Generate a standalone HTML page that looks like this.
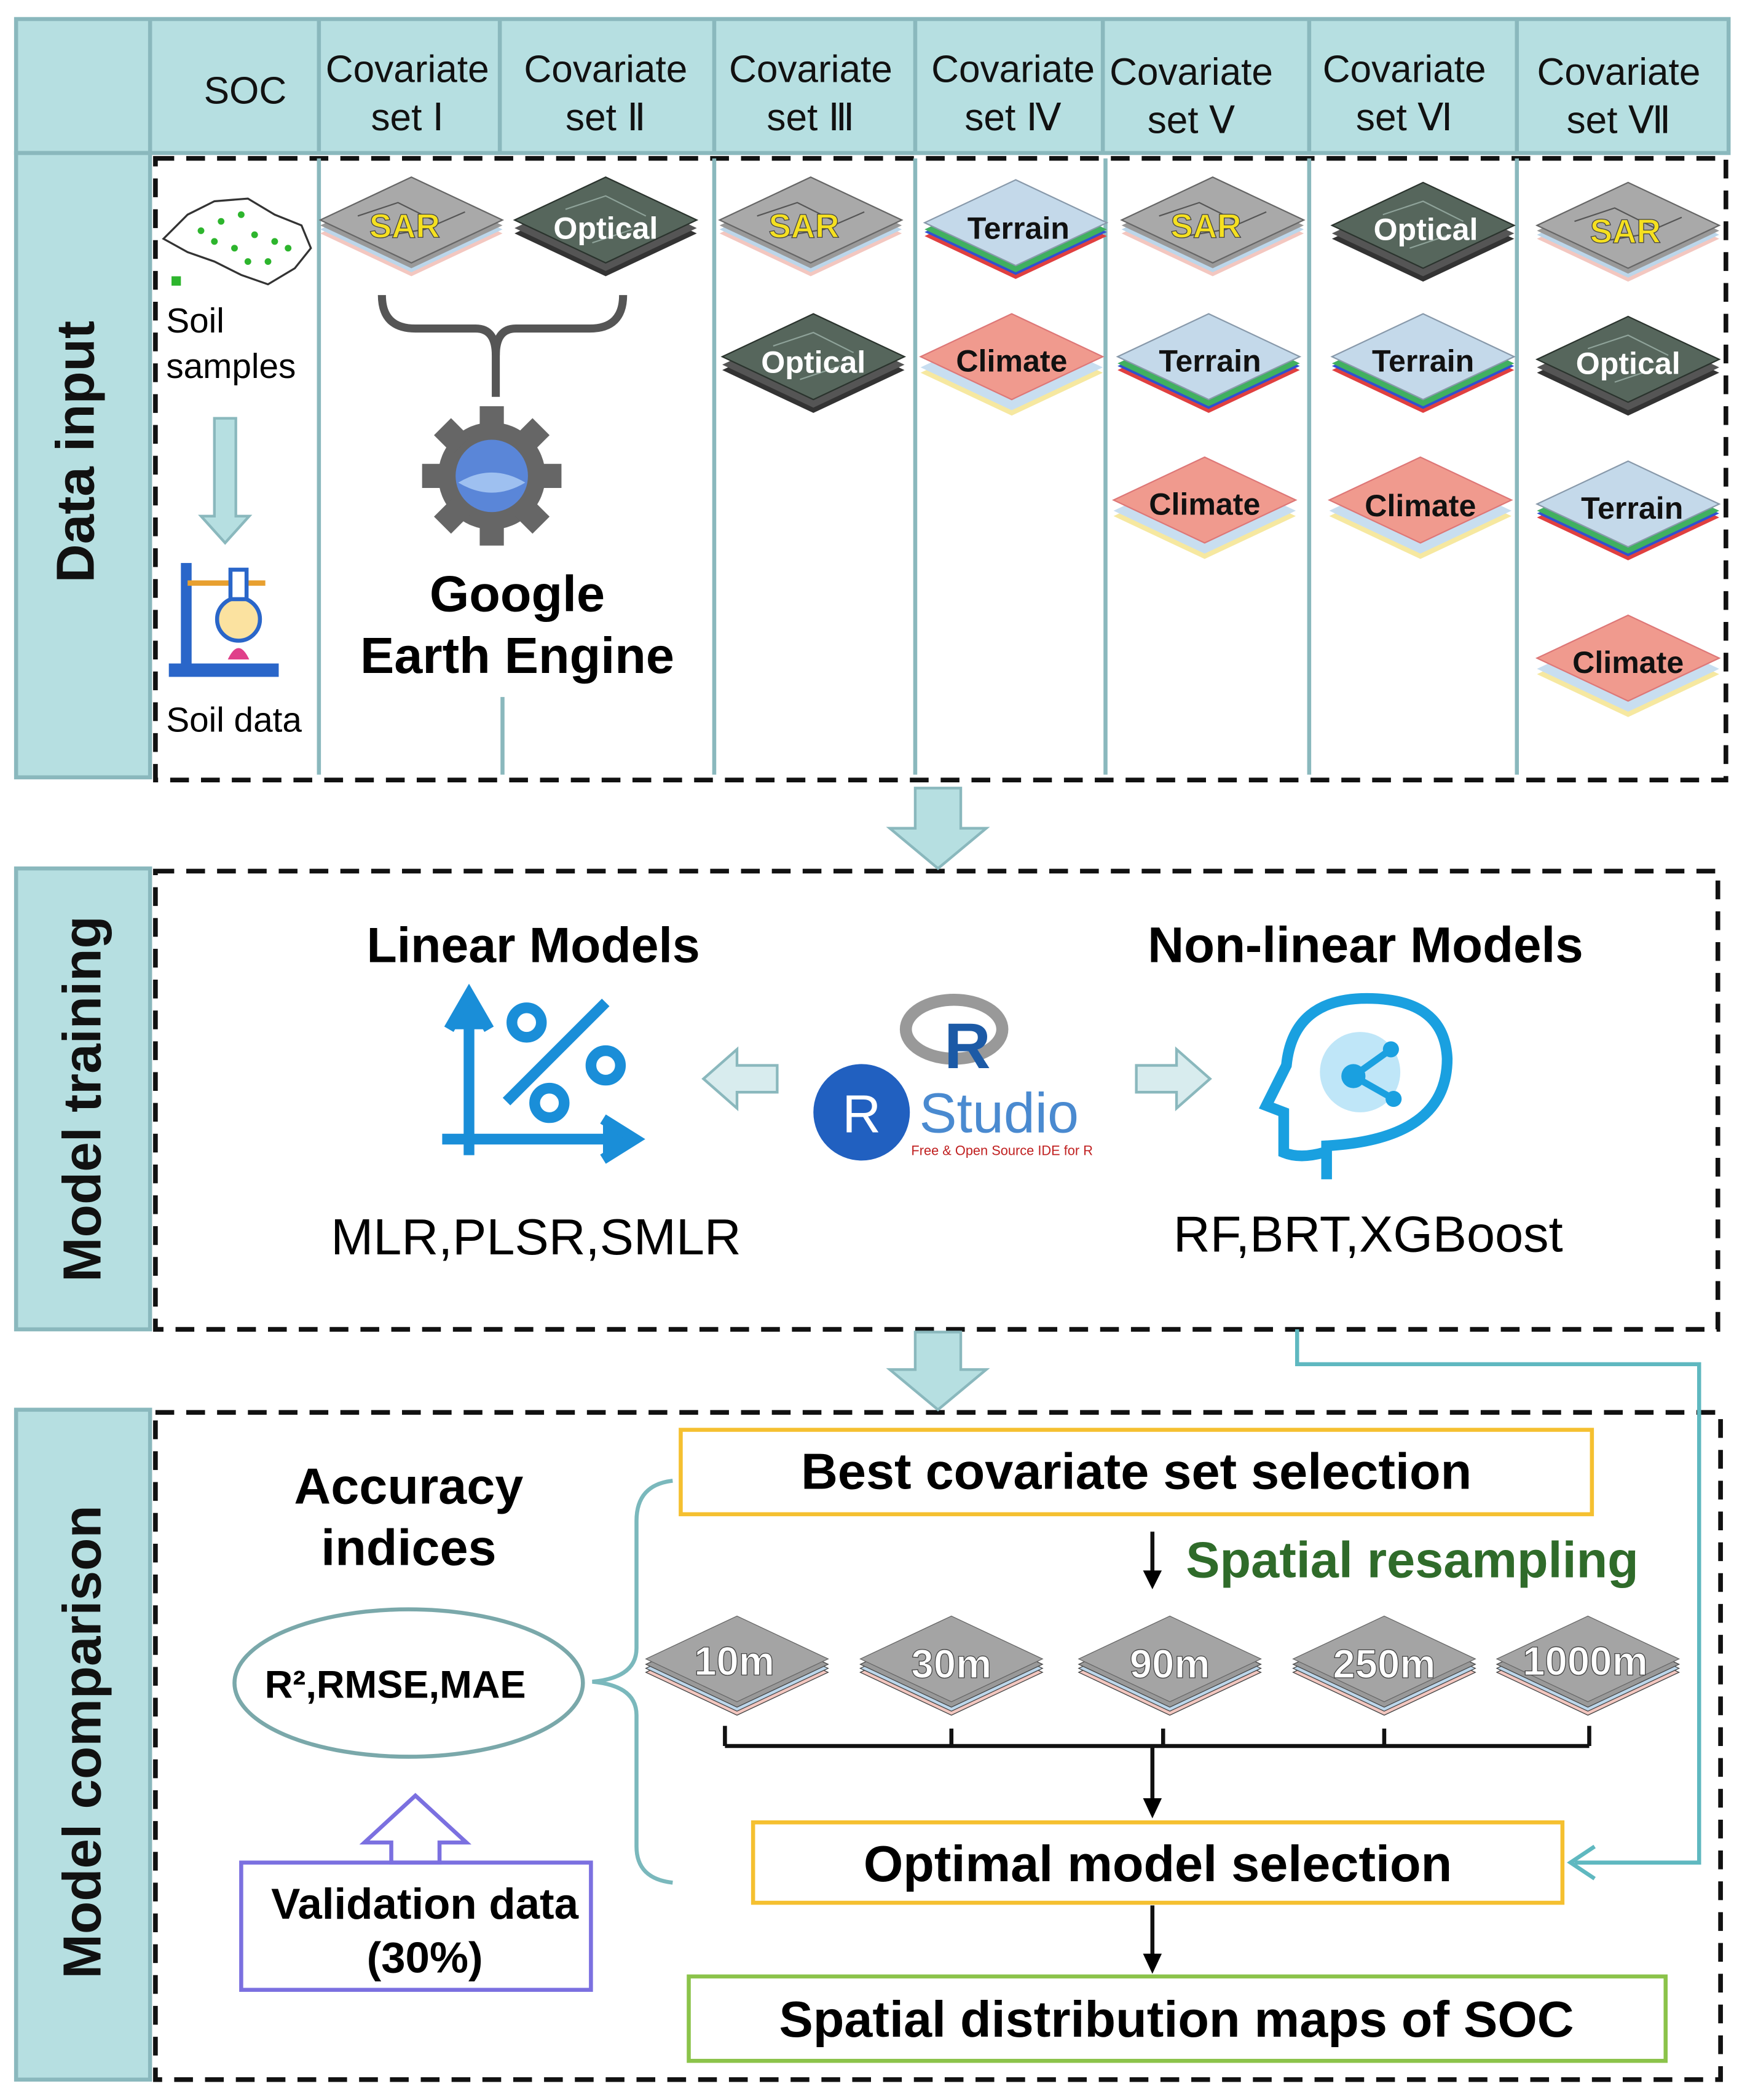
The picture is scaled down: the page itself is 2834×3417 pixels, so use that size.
<!DOCTYPE html>
<html><head><meta charset="utf-8"><style>
html,body{margin:0;padding:0;background:#fff}
svg{display:block}
text{font-family:"Liberation Sans",Arial,sans-serif}
</style></head><body>
<svg width="2834" height="3417" viewBox="0 0 1300 1567" xmlns="http://www.w3.org/2000/svg">
<defs>
<g id="base">
<polygon points="-68,8 0,-24 68,8 0,40" fill="#f3c7c0"/>
<polygon points="-68,5 0,-27 68,5 0,37" fill="#bcd6ea"/>
<polygon points="-68,2 0,-30 68,2 0,34" fill="#999"/>
</g>
<g id="sar"><use href="#base"/><polygon points="-68,-2 0,-34 68,-2 0,30" fill="#a9a9a9" stroke="#666" stroke-width="1"/>
<path d="M-40,-5 L-10,-15 L20,0 M-20,10 L10,5 L40,-8" stroke="#555" fill="none"/></g>
<g id="opt"><polygon points="-68,8 0,-24 68,8 0,40" fill="#333"/><polygon points="-68,4 0,-28 68,4 0,36" fill="#555"/>
<polygon points="-68,-2 0,-34 68,-2 0,30" fill="#56665c" stroke="#2a332d" stroke-width="1"/>
<path d="M-30,-10 L0,-20 L30,-5 M-10,15 L20,5" stroke="#8fa39a" fill="none"/></g>
<g id="ter"><polygon points="-68,8 0,-24 68,8 0,40" fill="#e04040"/><polygon points="-68,5 0,-27 68,5 0,37" fill="#3050d0"/><polygon points="-68,3 0,-29 68,3 0,35" fill="#40b060"/>
<polygon points="-68,-2 0,-34 68,-2 0,30" fill="#c4d9ea" stroke="#89a" stroke-width="1"/></g>
<g id="cli"><polygon points="-68,10 0,-22 68,10 0,42" fill="#f6e8a0"/><polygon points="-68,6 0,-26 68,6 0,38" fill="#c8def0"/>
<polygon points="-68,-2 0,-34 68,-2 0,30" fill="#f09a8e" stroke="#d77" stroke-width="1"/></g>
<g id="res"><use href="#base"/><polygon points="-68,-2 0,-34 68,-2 0,30" fill="#a4a4a4" stroke="#666"/></g>
</defs>

<rect x="12" y="14" width="1278" height="100" fill="#b6dfe1" stroke="#8ab8bd" stroke-width="3"/>
<g stroke="#8ab8bd" stroke-width="3">
<line x1="112" y1="14" x2="112" y2="114"/><line x1="238" y1="14" x2="238" y2="114"/><line x1="373" y1="14" x2="373" y2="114"/>
<line x1="533" y1="14" x2="533" y2="114"/><line x1="683" y1="14" x2="683" y2="114"/><line x1="823" y1="14" x2="823" y2="114"/>
<line x1="977" y1="14" x2="977" y2="114"/><line x1="1132" y1="14" x2="1132" y2="114"/>
</g>
<g font-size="28.5" text-anchor="middle" fill="#111">
<text x="183" y="77">SOC</text>
<text x="304" y="61">Covariate</text><text x="304" y="97">set Ⅰ</text>
<text x="452" y="61">Covariate</text><text x="452" y="97">set Ⅱ</text>
<text x="605" y="61">Covariate</text><text x="605" y="97">set Ⅲ</text>
<text x="756" y="61">Covariate</text><text x="756" y="97">set Ⅳ</text>
<text x="889" y="63">Covariate</text><text x="889" y="99">set Ⅴ</text>
<text x="1048" y="61">Covariate</text><text x="1048" y="97">set Ⅵ</text>
<text x="1208" y="63">Covariate</text><text x="1208" y="99">set Ⅶ</text>
</g>

<rect x="12" y="114" width="100" height="466" fill="#b6dfe1" stroke="#8ab8bd" stroke-width="3"/>
<rect x="12" y="648" width="100" height="344" fill="#b6dfe1" stroke="#8ab8bd" stroke-width="3"/>
<rect x="12" y="1052" width="100" height="500" fill="#b6dfe1" stroke="#8ab8bd" stroke-width="3"/>
<g font-size="40" font-weight="bold" text-anchor="middle" fill="#111">
<text transform="translate(70,337) rotate(-90)">Data input</text>
<text transform="translate(75,820) rotate(-90)">Model training</text>
<text transform="translate(75,1300) rotate(-90)">Model comparison</text>
</g>

<g fill="none" stroke="#111" stroke-width="3.5" stroke-dasharray="14,9">
<rect x="116" y="118" width="1172" height="464"/>
<rect x="116" y="650" width="1166" height="342"/>
<rect x="116" y="1054" width="1168" height="498"/>
</g>
<g stroke="#8ab8bd" stroke-width="3">
<line x1="238" y1="118" x2="238" y2="578"/><line x1="375" y1="520" x2="375" y2="578"/>
<line x1="533" y1="118" x2="533" y2="578"/><line x1="683" y1="118" x2="683" y2="578"/><line x1="825" y1="118" x2="825" y2="578"/>
<line x1="977" y1="118" x2="977" y2="578"/><line x1="1132" y1="118" x2="1132" y2="578"/>
</g>

<polygon points="683,588 717,588 717,618 736,618 700,648 664,618 683,618" fill="#b6dfe1" stroke="#8ab8bd" stroke-width="2"/>
<polygon points="683,994 717,994 717,1022 736,1022 700,1052 664,1022 683,1022" fill="#b6dfe1" stroke="#8ab8bd" stroke-width="2"/>

<path d="M122,178 L140,160 L160,150 L185,148 L205,160 L225,168 L232,185 L220,200 L200,212 L180,205 L160,195 L140,188 Z" fill="#fff" stroke="#333" stroke-width="1.5"/>
<g fill="#2db52d"><circle cx="150" cy="172" r="2.5"/><circle cx="165" cy="165" r="2.5"/><circle cx="180" cy="160" r="2.5"/><circle cx="190" cy="175" r="2.5"/><circle cx="205" cy="180" r="2.5"/><circle cx="175" cy="185" r="2.5"/><circle cx="200" cy="195" r="2.5"/><circle cx="215" cy="185" r="2.5"/><circle cx="160" cy="180" r="2.5"/><circle cx="185" cy="195" r="2.5"/><rect x="128" y="206" width="7" height="7"/></g>
<text x="124" y="248" font-size="26">Soil</text><text x="124" y="282" font-size="26">samples</text>
<polygon points="160,312 176,312 176,385 186,385 168,405 150,385 160,385" fill="#b6dfe1" stroke="#8ab8bd" stroke-width="2"/>
<rect x="126" y="495" width="82" height="10" fill="#2a66c9"/><rect x="135" y="420" width="8" height="78" fill="#2a66c9"/>
<line x1="140" y1="435" x2="198" y2="435" stroke="#e8a030" stroke-width="4"/>
<circle cx="178" cy="462" r="16" fill="#fbe2a0" stroke="#2a66c9" stroke-width="3"/><rect x="172" y="425" width="12" height="22" fill="#fff" stroke="#2a66c9" stroke-width="3"/>
<path d="M170,492 Q178,475 186,492 Z" fill="#e0408a"/>
<text x="124" y="546" font-size="26">Soil data</text>

<g font-weight="bold" font-size="25" text-anchor="middle">
<use href="#sar" x="307" y="166"/><text x="302" y="177" fill="#f5e020" stroke="#444" stroke-width="0.6">SAR</text>
<use href="#opt" x="452" y="166"/><text x="452" y="178" fill="#fff" font-size="23">Optical</text>
<use href="#sar" x="605" y="166"/><text x="600" y="177" fill="#f5e020" stroke="#444" stroke-width="0.6">SAR</text>
<use href="#opt" x="607" y="268"/><text x="607" y="278" fill="#fff" font-size="23">Optical</text>
<use href="#ter" x="758" y="168"/><text x="760" y="178" fill="#111" font-size="23">Terrain</text>
<use href="#cli" x="755" y="268"/><text x="755" y="277" fill="#111" font-size="23">Climate</text>
<use href="#sar" x="905" y="166"/><text x="900" y="177" fill="#f5e020" stroke="#444" stroke-width="0.6">SAR</text>
<use href="#ter" x="902" y="268"/><text x="903" y="277" fill="#111" font-size="23">Terrain</text>
<use href="#cli" x="899" y="375"/><text x="899" y="384" fill="#111" font-size="23">Climate</text>
<use href="#opt" x="1062" y="170"/><text x="1064" y="179" fill="#fff" font-size="23">Optical</text>
<use href="#ter" x="1062" y="268"/><text x="1062" y="277" fill="#111" font-size="23">Terrain</text>
<use href="#cli" x="1060" y="375"/><text x="1060" y="385" fill="#111" font-size="23">Climate</text>
<use href="#sar" x="1215" y="170"/><text x="1213" y="181" fill="#f5e020" stroke="#444" stroke-width="0.6">SAR</text>
<use href="#opt" x="1215" y="270"/><text x="1215" y="279" fill="#fff" font-size="23">Optical</text>
<use href="#ter" x="1215" y="378"/><text x="1218" y="387" fill="#111" font-size="23">Terrain</text>
<use href="#cli" x="1215" y="493"/><text x="1215" y="502" fill="#111" font-size="23">Climate</text>
</g>

<path d="M285,220 Q285,245 310,245 L355,245 Q370,245 370,265 Q370,245 385,245 L440,245 Q465,245 465,220" fill="none" stroke="#555" stroke-width="6"/>
<line x1="370" y1="255" x2="370" y2="296" stroke="#555" stroke-width="6"/>
<g transform="translate(367,355)">
<circle r="40" fill="#666"/>
<g fill="#666"><rect x="-9" y="-52" width="18" height="20"/><rect x="-9" y="32" width="18" height="20"/><rect x="-52" y="-9" width="20" height="18"/><rect x="32" y="-9" width="20" height="18"/>
<rect x="-9" y="-52" width="18" height="20" transform="rotate(45)"/><rect x="-9" y="-52" width="18" height="20" transform="rotate(135)"/><rect x="-9" y="-52" width="18" height="20" transform="rotate(225)"/><rect x="-9" y="-52" width="18" height="20" transform="rotate(315)"/></g>
<circle r="27" fill="#5a86d8"/><path d="M-25,5 Q0,-10 25,5 Q0,20 -25,5" fill="#9ec0f0"/>
</g>
<text x="386" y="456" font-size="38" font-weight="bold" text-anchor="middle">Google</text>
<text x="386" y="502" font-size="38" font-weight="bold" text-anchor="middle">Earth Engine</text>

<text x="398" y="718" font-size="37" font-weight="bold" text-anchor="middle">Linear Models</text>
<text x="1019" y="718" font-size="37.5" font-weight="bold" text-anchor="middle">Non-linear Models</text>
<g stroke="#1a8ed8" stroke-width="8" fill="none">
<line x1="350" y1="755" x2="350" y2="862"/><polyline points="335,768 350,742 365,768" fill="#1a8ed8"/>
<line x1="330" y1="850" x2="462" y2="850"/><polyline points="450,835 474,850 450,865" fill="#1a8ed8"/>
<line x1="378" y1="822" x2="452" y2="748"/>
<circle cx="393" cy="763" r="11"/><circle cx="410" cy="823" r="11"/><circle cx="452" cy="795" r="11"/>
</g>
<text x="400" y="936" font-size="38" text-anchor="middle">MLR,PLSR,SMLR</text>
<text x="1021" y="934" font-size="38" text-anchor="middle">RF,BRT,XGBoost</text>
<polygon points="580,795 550,795 550,783 525,805 550,827 550,815 580,815" fill="#d8ecee" stroke="#8ab8bd" stroke-width="2"/>
<polygon points="848,795 878,795 878,783 903,805 878,827 878,815 848,815" fill="#d8ecee" stroke="#8ab8bd" stroke-width="2"/>
<ellipse cx="712" cy="768" rx="36" ry="22" fill="none" stroke="#999" stroke-width="9"/>
<text x="722" y="797" font-size="48" font-weight="bold" fill="#1c5aa6" text-anchor="middle">R</text>
<circle cx="643" cy="830" r="36" fill="#2160c0"/>
<text x="643" y="845" font-size="40" fill="#fff" text-anchor="middle" font-family="Liberation Serif,serif">R</text>
<text x="686" y="845" font-size="42" fill="#4a8ad0">Studio</text>
<text x="680" y="862" font-size="10" fill="#c02020">Free &amp; Open Source IDE for R</text>
<g fill="none" stroke="#1aa0e0" stroke-width="8">
<path d="M990,880 L990,855 Q1080,850 1080,790 Q1078,745 1020,745 Q965,745 960,795 L945,825 L958,830 L958,860 Q970,865 988,860"/>
</g>
<circle cx="1015" cy="800" r="30" fill="#bfe6f8"/>
<g stroke="#1aa0e0" stroke-width="5"><line x1="1010" y1="803" x2="1038" y2="783"/><line x1="1010" y1="803" x2="1040" y2="820"/></g>
<g fill="#1aa0e0"><circle cx="1010" cy="803" r="9"/><circle cx="1038" cy="783" r="6"/><circle cx="1040" cy="820" r="6"/></g>

<polyline points="968,992 968,1018 1268,1018 1268,1390 1175,1390" fill="none" stroke="#5fb8c0" stroke-width="3"/>
<polyline points="1190,1378 1172,1390 1190,1402" fill="none" stroke="#5fb8c0" stroke-width="3"/>

<text x="305" y="1122" font-size="38" font-weight="bold" text-anchor="middle">Accuracy</text>
<text x="305" y="1168" font-size="38" font-weight="bold" text-anchor="middle">indices</text>
<ellipse cx="305" cy="1256" rx="130" ry="55" fill="none" stroke="#7aa8aa" stroke-width="3"/>
<text x="295" y="1267" font-size="29" font-weight="bold" text-anchor="middle">R²,RMSE,MAE</text>
<polygon points="292,1390 292,1375 272,1375 310,1340 348,1375 328,1375 328,1390" fill="#fff" stroke="#7b70e0" stroke-width="3"/>
<rect x="180" y="1390" width="261" height="95" fill="none" stroke="#7b70e0" stroke-width="3"/>
<text x="317" y="1432" font-size="32.5" font-weight="bold" text-anchor="middle">Validation data</text>
<text x="317" y="1472" font-size="32.5" font-weight="bold" text-anchor="middle">(30%)</text>
<path d="M502,1105 Q475,1108 475,1135 L475,1230 Q475,1252 442,1255 Q475,1258 475,1280 L475,1378 Q475,1402 502,1405" fill="none" stroke="#7ab8bc" stroke-width="3"/>

<rect x="508" y="1067" width="680" height="63" fill="#fff" stroke="#f5c030" stroke-width="3"/>
<text x="848" y="1111" font-size="38" font-weight="bold" text-anchor="middle">Best covariate set selection</text>
<line x1="860" y1="1143" x2="860" y2="1175" stroke="#111" stroke-width="3"/><polygon points="853,1172 867,1172 860,1186"/>
<text x="885" y="1177" font-size="38" font-weight="bold" fill="#2f6b2a">Spatial resampling</text>

<g font-size="30" font-weight="bold" fill="#fff" text-anchor="middle" stroke="#444" stroke-width="0.6">
<use href="#res" x="550" y="1240"/><text x="548" y="1250">10m</text>
<use href="#res" x="710" y="1240"/><text x="710" y="1252">30m</text>
<use href="#res" x="873" y="1240"/><text x="873" y="1252">90m</text>
<use href="#res" x="1033" y="1240"/><text x="1033" y="1252">250m</text>
<use href="#res" x="1185" y="1240"/><text x="1183" y="1250">1000m</text>
</g>
<g stroke="#111" stroke-width="3" fill="none">
<line x1="541" y1="1303" x2="1186" y2="1303"/>
<line x1="541" y1="1288" x2="541" y2="1303"/><line x1="710" y1="1290" x2="710" y2="1303"/><line x1="868" y1="1290" x2="868" y2="1303"/><line x1="1033" y1="1290" x2="1033" y2="1303"/><line x1="1186" y1="1288" x2="1186" y2="1303"/>
<line x1="860" y1="1303" x2="860" y2="1345"/><line x1="860" y1="1422" x2="860" y2="1460"/>
</g>
<polygon points="853,1342 867,1342 860,1357"/><polygon points="853,1458 867,1458 860,1473"/>
<rect x="562" y="1360" width="604" height="60" fill="#fff" stroke="#f5c030" stroke-width="3"/>
<text x="864" y="1404" font-size="38" font-weight="bold" text-anchor="middle">Optimal model selection</text>
<rect x="514" y="1475" width="729" height="63" fill="#fff" stroke="#8bc34a" stroke-width="3"/>
<text x="878" y="1520" font-size="38" font-weight="bold" text-anchor="middle">Spatial  distribution maps of SOC</text>
</svg>
</body></html>
